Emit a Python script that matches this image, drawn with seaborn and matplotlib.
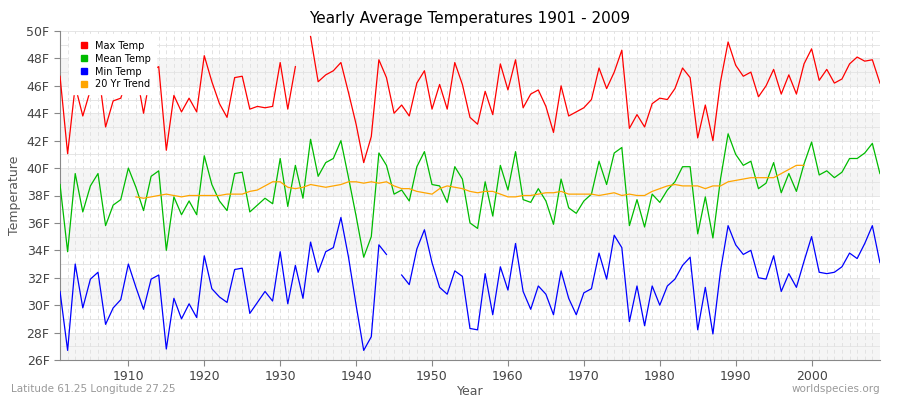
import numpy as np
import pandas as pd
import matplotlib
matplotlib.use("Agg")
import matplotlib.pyplot as plt
import seaborn as sns

years = list(range(1901, 2010))
nan = np.nan
max_temp = [46.7,41.05,46.0,43.8,45.7,47.3,43.0,44.9,45.1,46.8,47.1,44.0,47.1,47.4,41.3,45.3,44.1,45.1,44.1,48.2,
            46.3,44.7,43.7,46.6,46.7,44.3,44.5,44.4,44.5,47.7,44.3,47.4,nan,49.6,46.3,46.8,47.1,47.7,45.5,43.2,
            40.4,42.3,47.9,46.6,44.0,44.6,43.8,46.2,47.1,44.3,46.1,44.3,47.7,46.1,43.7,43.2,45.6,43.9,47.6,45.7,
            47.9,44.4,45.4,45.7,44.5,42.6,46.0,43.8,44.1,44.4,45.0,47.3,45.8,47.0,48.6,42.9,43.9,43.0,44.7,45.1,
            45.0,45.8,47.3,46.6,42.2,44.6,42.0,46.3,49.2,47.5,46.7,47.0,45.2,46.0,47.2,45.4,46.8,45.4,47.6,48.7,
            46.4,47.2,46.2,46.5,47.6,48.1,47.8,47.9,46.2]
mean_temp = [38.8,33.9,39.6,36.8,38.7,39.6,35.8,37.3,37.7,40.0,38.6,36.9,39.4,39.8,34.0,37.9,36.6,37.6,36.6,40.9,
             38.8,37.6,36.9,39.6,39.7,36.8,37.3,37.8,37.4,40.7,37.2,40.2,37.8,42.1,39.4,40.4,40.7,42.0,39.3,36.5,
             33.5,35.0,41.1,40.2,38.1,38.4,37.6,40.1,41.2,38.8,38.7,37.5,40.1,39.2,36.0,35.6,39.0,36.5,40.2,38.4,
             41.2,37.7,37.5,38.5,37.6,35.9,39.2,37.1,36.7,37.6,38.1,40.5,38.8,41.1,41.5,35.8,37.7,35.7,38.1,37.5,
             38.4,39.0,40.1,40.1,35.2,37.9,34.9,39.2,42.5,41.0,40.2,40.5,38.5,38.9,40.4,38.2,39.6,38.3,40.3,41.9,
             39.5,39.8,39.3,39.7,40.7,40.7,41.1,41.8,39.6]
min_temp = [31.0,26.7,33.0,29.8,31.9,32.4,28.6,29.8,30.4,33.0,31.3,29.7,31.9,32.2,26.8,30.5,29.0,30.1,29.1,33.6,
            31.2,30.6,30.2,32.6,32.7,29.4,30.2,31.0,30.3,33.9,30.1,32.9,30.5,34.6,32.4,33.9,34.2,36.4,33.5,30.0,
            26.7,27.7,34.4,33.7,nan,32.2,31.5,34.1,35.5,33.1,31.3,30.8,32.5,32.1,28.3,28.2,32.3,29.3,32.8,31.1,
            34.5,31.0,29.7,31.4,30.8,29.3,32.5,30.5,29.3,30.9,31.2,33.8,31.9,35.1,34.2,28.8,31.4,28.5,31.4,30.0,
            31.4,31.9,32.9,33.5,28.2,31.3,27.9,32.5,35.8,34.4,33.7,34.0,32.0,31.9,33.6,31.0,32.3,31.3,33.2,35.0,
            32.4,32.3,32.4,32.8,33.8,33.4,34.5,35.8,33.1]
trend_years = list(range(1911, 2000))
trend = [37.9,37.8,37.9,38.0,38.1,38.0,37.9,38.0,38.0,38.0,38.0,38.0,38.1,38.1,38.1,38.3,38.4,
         38.7,39.0,39.0,38.6,38.5,38.6,38.8,38.7,38.6,38.7,38.8,39.0,39.0,38.9,39.0,38.9,39.0,38.7,38.5,38.5,38.3,38.2,38.1,38.5,38.7,38.6,38.5,
         38.3,38.2,38.3,38.3,38.1,37.9,37.9,38.0,38.0,38.1,38.2,38.2,38.3,38.1,38.1,38.1,38.1,38.0,38.1,38.2,38.0,38.1,38.0,38.0,38.3,38.5,38.7,
         38.8,38.7,38.7,38.7,38.5,38.7,38.7,39.0,39.1,39.2,39.3,39.3,39.3,39.3,39.6,39.9,40.2,40.2]
yticks = list(range(26, 51, 2))
xticks = list(range(1910, 2001, 10))

fig = plt.figure(figsize=(9, 4), dpi=100)
ax = fig.add_axes([0.0667, 0.1, 0.911, 0.8225])
ax.set_xlim(1901, 2009)
ax.set_ylim(26, 50)
for b in range(26, 50, 4):
    ax.axhspan(b, b + 2, color="#f5f5f5", zorder=0, lw=0)
for y in range(26, 51):
    ax.axhline(y, color="#e6e6e6", lw=0.7, zorder=0.5)
for yr in years:
    ax.axvline(yr, color="#e2e2e2", lw=0.7, ls=(0, (4, 3)), zorder=0.5)

series = [("Max Temp", years, max_temp, "#ff0000"),
          ("Mean Temp", years, mean_temp, "#00bb00"),
          ("Min Temp", years, min_temp, "#0000ff"),
          ("20 Yr Trend", trend_years, trend, "#ffa500")]
for name, xs, vals, col in series:
    df = pd.DataFrame({"Year": xs, "Temp": vals})
    ax.plot(df["Year"], df["Temp"], color=col, lw=0.9, label=name, zorder=3)

ax.set_yticks(yticks)
ax.set_yticklabels([f"{t}F" for t in yticks], fontsize=9, color="#444444")
ax.set_xticks(xticks)
ax.set_xticklabels([str(t) for t in xticks], fontsize=9, color="#444444")
for s in ["top", "right"]:
    ax.spines[s].set_visible(False)
for s in ["left", "bottom"]:
    ax.spines[s].set_color("#888888")
ax.tick_params(colors="#888888", labelcolor="#444444", length=4)
ax.set_xlabel("Year", fontsize=9, color="#555555", labelpad=1)
ax.set_ylabel("Temperature", fontsize=9, color="#555555")
ax.set_title("Yearly Average Temperatures 1901 - 2009", fontsize=11, pad=6)
handles = [plt.Line2D([], [], marker="s", ls="", color=c, markersize=4) for _, _, _, c in series]
ax.legend(handles, [s[0] for s in series], loc="upper left", fontsize=7, frameon=True,
          facecolor="white", edgecolor="white", framealpha=1, handletextpad=0.2,
          borderpad=0.5, labelspacing=0.3, bbox_to_anchor=(0.005, 1.0))
fig.text(0.012, 0.02, "Latitude 61.25 Longitude 27.25", fontsize=7.5, color="#999999")
fig.text(0.978, 0.02, "worldspecies.org", fontsize=7.5, color="#999999", ha="right")
sns.despine(ax=ax, top=True, right=True)
fig.savefig("out.png", dpi=100)
